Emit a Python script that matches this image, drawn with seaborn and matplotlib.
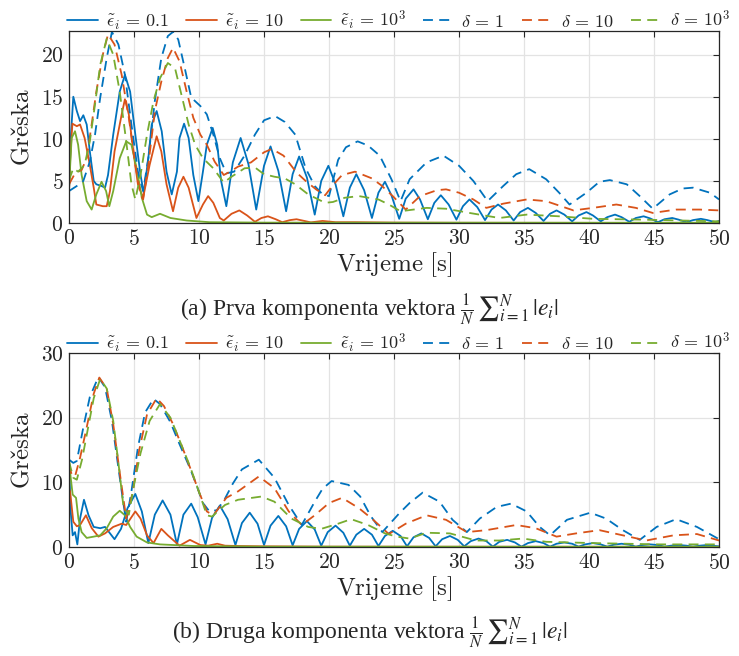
import numpy as np
import matplotlib
matplotlib.use("Agg")
import matplotlib.pyplot as plt
import seaborn as sns

# (t, value) points, one list per curve
# panel (a): first component
a_eps01 = [(0.0, 4.0), (0.15, 10.5), (0.33, 15.0), (0.6, 13.3), (0.85, 12.1), (1.1, 12.8), (1.36, 11.7),
           (1.6, 8.5), (1.9, 5.0), (2.1, 4.6), (2.5, 4.4), (2.77, 4.2), (3.0, 5.7), (3.4, 10.5), (3.9, 15.6),
           (4.3, 17.6), (4.7, 15.6), (5.1, 10.5), (5.5, 5.7), (5.75, 3.6), (6.1, 7.7), (6.36, 11.7), (6.74, 13.3),
           (7.13, 10.9), (7.5, 6.1), (7.9, 3.4), (8.3, 6.1), (8.5, 10.1), (8.85, 11.8), (9.2, 10.1), (9.56, 5.7),
           (9.95, 2.6), (10.3, 6.1), (10.6, 9.3), (11.05, 11.3), (11.4, 9.3), (11.7, 5.0), (12.1, 2.0), (12.6, 7.2),
           (13.2, 10.1), (13.8, 7.0), (14.4, 1.6), (15.0, 6.8), (15.5, 9.1), (16.1, 6.2), (16.7, 1.4), (17.2, 5.8),
           (17.7, 7.9), (18.3, 5.4), (18.9, 1.0), (19.4, 5.0), (19.95, 6.8), (20.5, 4.6), (21.1, 0.8), (21.6, 4.2),
           (22.1, 5.8), (22.7, 3.9), (23.3, 0.6), (23.8, 3.6), (24.3, 4.9), (24.8, 3.3), (25.4, 0.5), (25.9, 2.9),
           (26.5, 4.0), (27.0, 2.8), (27.6, 0.45), (28.1, 2.4), (28.6, 3.3), (29.2, 2.2), (29.8, 0.4), (30.3, 2.0),
           (30.8, 2.8), (31.4, 1.9), (32.0, 0.35), (32.5, 1.6), (33.0, 2.2), (33.6, 1.5), (34.2, 0.3), (34.7, 1.3),
           (35.3, 1.8), (35.9, 1.2), (36.5, 0.25), (37.0, 1.1), (37.5, 1.5), (38.1, 1.0), (38.7, 0.2), (39.2, 0.9),
           (39.8, 1.3), (40.3, 0.9), (40.9, 0.2), (41.4, 0.7), (42.0, 1.0), (42.5, 0.7), (43.1, 0.15), (43.6, 0.6),
           (44.2, 0.8), (44.7, 0.55), (45.3, 0.1), (45.8, 0.45), (46.4, 0.6), (46.9, 0.4), (47.5, 0.1), (48.0, 0.35),
           (48.6, 0.5), (49.1, 0.35), (49.7, 0.1), (50.0, 0.25)]
a_eps10 = [(0.0, 3.8), (0.1, 8.0), (0.26, 11.8), (0.6, 11.5), (0.85, 11.7), (1.2, 10.1), (1.6, 6.9), (1.9, 4.2),
           (2.1, 2.2), (2.6, 2.0), (2.9, 2.0), (3.15, 3.8), (3.5, 8.5), (4.05, 12.9), (4.3, 14.7), (4.6, 12.9),
           (4.95, 8.5), (5.3, 4.6), (5.7, 3.0), (6.2, 6.9), (6.74, 10.3), (7.1, 8.5), (7.5, 4.6), (8.0, 1.4),
           (8.4, 4.2), (8.8, 5.5), (9.2, 4.2), (9.8, 0.6), (10.3, 2.2), (10.7, 3.2), (11.1, 2.4), (11.6, 0.6),
           (11.9, 0.3), (12.5, 1.1), (13.1, 1.5), (13.7, 0.9), (14.3, 0.15), (14.8, 0.6), (15.3, 0.8), (15.9, 0.45),
           (16.4, 0.1), (17.0, 0.35), (17.5, 0.45), (18.1, 0.25), (18.6, 0.08), (19.5, 0.25), (20.5, 0.1),
           (22.0, 0.1), (25.0, 0.05), (30.0, 0.03), (40.0, 0.02), (50.0, 0.02)]
a_eps1000 = [(0.0, 4.2), (0.2, 10.1), (0.46, 10.9), (0.7, 9.3), (0.97, 5.7), (1.36, 2.6), (1.74, 1.6), (2.1, 3.4),
             (2.5, 4.9), (2.85, 3.8), (3.1, 2.0), (3.4, 3.8), (3.9, 7.7), (4.4, 9.7), (4.8, 9.3), (5.2, 6.5),
             (5.6, 3.0), (6.0, 1.0), (6.36, 0.7), (7.0, 1.1), (7.8, 0.6), (9.05, 0.3), (10.8, 0.1), (15.0, 0.05),
             (50.0, 0.03)]
a_del1 = [(0.0, 3.8), (0.6, 4.4), (1.1, 5.0), (1.6, 7.3), (2.0, 10.5), (2.4, 14.9), (2.9, 19.6), (3.3, 22.7),
          (3.8, 21.2), (4.3, 17.6), (4.8, 11.7), (5.3, 6.1), (5.7, 3.8), (6.1, 7.7), (6.6, 14.5), (7.1, 19.6),
          (7.6, 22.2), (8.0, 22.7), (8.4, 21.8), (8.9, 18.4), (9.4, 14.9), (10.1, 13.9), (10.6, 12.9), (11.1, 10.5),
          (11.6, 7.7), (12.1, 5.9), (12.7, 6.1), (13.5, 8.0), (14.3, 10.5), (15.0, 12.2), (15.85, 12.7),
          (16.6, 12.0), (17.4, 10.5), (18.2, 6.5), (18.9, 4.4), (19.5, 3.4), (20.0, 3.2), (20.7, 7.5), (21.3, 9.0),
          (22.2, 9.7), (23.0, 9.2), (23.9, 8.0), (24.8, 5.2), (25.5, 2.6), (26.2, 5.2), (27.5, 7.2), (28.8, 8.0),
          (30.0, 6.8), (31.1, 5.0), (32.2, 2.6), (33.4, 4.4), (34.4, 5.8), (35.4, 6.4), (36.7, 5.2), (37.7, 3.6),
          (38.5, 2.2), (39.8, 3.6), (40.8, 4.9), (41.6, 5.1), (42.9, 4.6), (43.9, 3.2), (44.9, 1.7), (46.2, 3.4),
          (47.2, 4.1), (48.0, 4.2), (49.3, 3.6), (50.0, 2.8)]
a_del10 = [(0.0, 4.6), (0.46, 5.9), (0.97, 6.3), (1.36, 7.7), (1.74, 11.7), (2.1, 15.6), (2.6, 20.0), (3.0, 22.4),
           (3.5, 21.2), (4.05, 17.6), (4.6, 12.5), (5.1, 6.9), (5.5, 3.4), (5.7, 2.8), (6.1, 6.9), (6.6, 13.3),
           (7.1, 16.8), (7.6, 19.6), (8.0, 20.8), (8.5, 19.2), (9.05, 15.6), (9.56, 12.5), (10.1, 10.5),
           (10.6, 9.3), (11.2, 7.3), (11.9, 5.7), (12.5, 6.2), (13.0, 6.7), (14.0, 7.2), (15.0, 8.4), (15.6, 8.8),
           (16.5, 8.0), (17.5, 6.0), (18.2, 5.0), (19.0, 4.0), (19.7, 3.3), (20.3, 4.5), (21.0, 5.7), (22.0, 6.1),
           (23.3, 5.3), (24.0, 4.5), (24.9, 3.2), (25.9, 1.6), (27.0, 3.2), (28.3, 3.9), (29.0, 4.0), (30.0, 3.6),
           (31.1, 2.8), (32.1, 1.8), (33.4, 2.3), (35.2, 2.8), (36.7, 2.6), (38.8, 1.5), (40.3, 1.8), (42.1, 2.2),
           (43.6, 1.8), (44.9, 1.2), (46.7, 1.6), (48.5, 1.6), (50.0, 1.5)]
a_del1000 = [(0.0, 5.1), (0.33, 6.5), (0.7, 6.1), (1.2, 6.9), (1.6, 9.7), (2.0, 14.1), (2.4, 18.8), (2.9, 21.9),
             (3.4, 20.0), (3.9, 15.6), (4.4, 9.7), (4.8, 4.6), (5.1, 2.8), (5.5, 5.7), (6.0, 10.5), (6.5, 14.5),
             (7.0, 17.2), (7.6, 19.0), (8.15, 18.4), (8.7, 14.9), (9.2, 11.7), (9.7, 9.3), (10.3, 7.7), (11.1, 6.5),
             (11.9, 4.8), (12.5, 5.5), (13.5, 6.5), (14.3, 6.6), (15.0, 5.8), (15.8, 5.5), (16.6, 5.3), (17.4, 4.6),
             (18.4, 3.4), (19.7, 2.4), (20.3, 2.5), (21.2, 3.0), (22.3, 3.2), (23.8, 2.8), (24.6, 2.2), (25.5, 1.4),
             (26.5, 1.6), (27.5, 1.8), (29.0, 1.7), (30.8, 1.2), (33.1, 0.6), (35.2, 1.0), (37.7, 0.8), (40.3, 0.5),
             (44.2, 0.4), (50.0, 0.2)]

# panel (b): second component
b_eps01 = [(0.0, 13.0), (0.13, 5.5), (0.28, 1.8), (0.46, 2.3), (0.64, 0.4), (0.85, 4.4), (1.15, 7.3), (1.5, 4.9),
           (1.9, 3.1), (2.4, 2.9), (2.77, 3.1), (3.0, 2.5), (3.5, 1.2), (4.0, 2.8), (4.5, 6.0), (5.1, 8.2),
           (5.6, 5.5), (6.1, 0.6), (6.6, 5.0), (7.2, 7.2), (7.8, 5.0), (8.3, 0.4), (8.8, 5.0), (9.4, 6.7),
           (9.9, 4.6), (10.5, 0.4), (11.0, 4.5), (11.6, 6.4), (12.2, 4.3), (12.8, 0.3), (13.3, 3.7), (13.9, 5.3),
           (14.5, 3.6), (15.0, 0.3), (15.5, 3.3), (16.1, 4.8), (16.7, 3.2), (17.2, 0.25), (17.7, 2.8), (18.3, 4.0),
           (18.9, 2.7), (19.4, 0.2), (19.9, 2.3), (20.5, 3.3), (21.1, 2.2), (21.6, 0.2), (22.1, 1.9), (22.7, 2.8),
           (23.3, 1.9), (23.8, 0.15), (24.3, 1.7), (24.9, 2.5), (25.5, 1.7), (26.0, 0.1), (26.5, 1.5), (27.1, 2.1),
           (27.7, 1.4), (28.2, 0.1), (28.7, 1.2), (29.3, 1.7), (29.9, 1.1), (30.4, 0.1), (30.9, 0.9), (31.5, 1.3),
           (32.1, 0.9), (32.6, 0.05), (33.1, 0.8), (33.7, 1.1), (34.3, 0.7), (34.8, 0.05), (35.3, 0.6), (35.9, 0.9),
           (36.5, 0.6), (37.0, 0.05), (37.5, 0.5), (38.1, 0.7), (38.7, 0.5), (39.2, 0.05), (39.7, 0.4), (40.3, 0.6),
           (40.9, 0.4), (41.4, 0.05), (41.9, 0.35), (42.5, 0.5), (43.1, 0.35), (43.6, 0.05), (44.1, 0.3),
           (44.7, 0.4), (45.3, 0.3), (45.8, 0.05), (46.3, 0.2), (46.9, 0.3), (47.5, 0.2), (48.0, 0.05), (48.5, 0.2),
           (49.1, 0.3), (49.7, 0.15), (50.0, 0.1)]
b_eps10 = [(0.0, 9.0), (0.08, 8.6), (0.33, 3.9), (0.6, 3.2), (0.85, 3.4), (1.3, 4.9), (1.75, 2.9), (2.26, 1.6),
           (2.77, 2.1), (3.4, 3.1), (4.05, 3.6), (4.4, 3.4), (5.1, 5.5), (5.5, 4.4), (6.0, 1.8), (6.5, 0.6),
           (7.1, 2.8), (7.6, 1.8), (8.5, 0.2), (9.3, 1.1), (10.1, 0.3), (10.7, 0.2), (11.4, 0.5), (12.0, 0.2),
           (13.0, 0.15), (15.0, 0.1), (20.0, 0.05), (50.0, 0.02)]
b_eps1000 = [(0.0, 13.5), (0.13, 10.7), (0.28, 8.1), (0.54, 7.6), (0.72, 4.4), (0.97, 2.3), (1.36, 1.4),
             (1.9, 1.6), (2.4, 1.8), (2.9, 2.9), (3.4, 4.7), (3.9, 5.6), (4.3, 4.9), (4.7, 3.1), (5.2, 1.6),
             (6.0, 0.7), (7.0, 0.4), (9.6, 0.15), (15.0, 0.05), (50.0, 0.03)]
b_del1 = [(0.0, 13.5), (0.33, 13.0), (0.6, 13.3), (1.1, 18.5), (1.6, 23.2), (2.26, 26.3), (2.77, 24.7), (3.3, 19.5),
          (3.8, 12.2), (4.2, 6.5), (4.4, 3.9), (4.8, 8.6), (5.3, 15.4), (5.85, 20.8), (6.5, 22.9), (7.0, 22.1),
          (7.8, 19.3), (8.5, 15.9), (9.3, 12.2), (9.8, 9.6), (10.3, 6.8), (10.8, 5.5), (11.4, 5.7), (12.0, 7.5),
          (12.6, 9.8), (13.3, 12.0), (14.6, 13.5), (15.8, 10.7), (16.9, 6.5), (17.9, 3.4), (18.9, 7.0),
          (19.5, 9.0), (20.2, 10.2), (21.5, 9.6), (22.4, 7.8), (23.2, 4.8), (24.1, 2.3), (25.4, 5.2), (26.2, 6.8),
          (27.2, 8.4), (28.5, 7.0), (29.5, 4.2), (30.6, 2.3), (31.6, 4.4), (32.9, 6.2), (34.0, 6.7), (35.2, 5.5),
          (36.2, 3.1), (37.0, 1.8), (38.3, 4.2), (40.1, 5.3), (41.3, 4.4), (42.6, 2.6), (43.9, 1.1), (45.2, 3.1),
          (46.7, 4.3), (48.3, 3.1), (50.0, 1.2)]
b_del10 = [(0.0, 12.8), (0.2, 11.2), (0.46, 10.9), (0.85, 13.8), (1.36, 18.5), (1.9, 23.7), (2.33, 26.2),
           (2.9, 24.5), (3.4, 19.0), (3.9, 11.5), (4.4, 4.4), (4.9, 8.5), (5.4, 15.0), (6.0, 20.5), (6.74, 23.0),
           (7.3, 21.8), (8.0, 19.0), (8.7, 15.5), (9.4, 11.8), (10.0, 8.5), (10.6, 5.5), (11.1, 4.9), (12.1, 7.6),
           (13.0, 8.6), (14.6, 10.9), (15.8, 9.1), (16.9, 5.5), (17.9, 3.4), (18.9, 4.9), (20.0, 6.8), (21.0, 7.6),
           (22.3, 6.0), (23.4, 4.2), (24.6, 2.0), (25.9, 3.6), (27.5, 4.9), (29.0, 4.2), (30.6, 2.3), (32.1, 2.6),
           (34.4, 3.4), (35.9, 2.9), (37.5, 1.6), (39.0, 2.1), (40.8, 2.6), (42.6, 1.8), (44.4, 1.0), (46.5, 1.8),
           (48.3, 2.0), (50.0, 1.0)]
b_del1000 = [(0.0, 13.2), (0.33, 10.7), (0.6, 10.4), (1.0, 13.5), (1.5, 18.8), (1.9, 23.0), (2.4, 26.0),
             (2.9, 24.5), (3.4, 19.5), (3.8, 13.0), (4.2, 6.0), (4.6, 5.0), (5.0, 9.6), (5.5, 14.5), (6.2, 19.5),
             (7.0, 22.1), (7.8, 20.0), (8.5, 16.5), (9.3, 12.5), (10.0, 8.5), (10.6, 4.9), (11.0, 4.7), (12.0, 6.5),
             (13.0, 7.3), (14.8, 7.8), (15.8, 7.0), (17.1, 4.4), (18.4, 3.1), (19.4, 2.8), (20.7, 3.6), (21.7, 4.3),
             (23.0, 3.4), (24.3, 2.1), (25.2, 1.6), (26.2, 1.3), (27.5, 2.2), (29.3, 2.1), (31.3, 1.0), (33.1, 1.0),
             (34.9, 1.3), (36.7, 0.8), (40.3, 0.6), (45.4, 0.4), (50.0, 0.4)]

labels = [r'$\tilde{\epsilon}_i\,=\,0.1$', r'$\tilde{\epsilon}_i\,=\,10$', r'$\tilde{\epsilon}_i\,=\,10^3$',
          r'$\delta\,=\,1$', r'$\delta\,=\,10$', r'$\delta\,=\,10^3$']
captions = [r'(a) Prva komponenta vektora $\frac{1}{N}\,{\sum}_{i=1}^{N}\,|e_i|$',
            r'(b) Druga komponenta vektora $\frac{1}{N}\,{\sum}_{i=1}^{N}\,|e_i|$']

colors = [(0, 0.447, 0.741), (0.85, 0.325, 0.098), (0.466, 0.674, 0.188)]

sns.set_style("whitegrid")
plt.rcParams['font.family'] = ['cmr10', 'DejaVu Serif']
plt.rcParams['mathtext.fontset'] = 'cm'
plt.rcParams['axes.formatter.use_mathtext'] = True

fig = plt.figure(figsize=(7.39, 6.56), dpi=100)
ax_a = fig.add_axes([0.0934, 0.660, 0.8796, 0.2927])
ax_b = fig.add_axes([0.0934, 0.1662, 0.8796, 0.2957])

panels = [
    (ax_a, [a_eps01, a_eps10, a_eps1000, a_del1, a_del10, a_del1000], 22.8, [0, 5, 10, 15, 20]),
    (ax_b, [b_eps01, b_eps10, b_eps1000, b_del1, b_del10, b_del1000], 30, [0, 10, 20, 30]),
]

for ax, series, ymax, yticks in panels:
    for k, pts in enumerate(series):
        t, v = np.array(pts).T
        ls = '-' if k < 3 else (0, (5.5, 3.5))
        sns.lineplot(x=t, y=v, ax=ax, color=colors[k % 3], linestyle=ls, lw=1.3,
                     label=labels[k], sort=False, estimator=None)
    ax.set_xlim(0, 50)
    ax.set_ylim(0, ymax)
    ax.set_xticks(range(0, 51, 5))
    ax.set_yticks(yticks)
    ax.grid(True, color='#e3e3e3', lw=0.9)
    for s in ax.spines.values():
        s.set_color('#262626')
        s.set_linewidth(0.9)
    ax.tick_params(direction='in', top=True, right=True, length=4, width=0.8,
                   color='#262626', labelsize=15.5, pad=4)
    ax.set_xlabel(r'$\mathrm{Vrijeme\ [s]}$', fontsize=18, labelpad=1)
    ax.set_ylabel(r'$\mathrm{Gre\check{s}ka}$', fontsize=18, labelpad=5)
    h, l = ax.get_legend_handles_labels()
    ax.legend(h, l, loc='lower center', bbox_to_anchor=(0.507, 0.955), ncol=6, frameon=False,
              fontsize=13, handlelength=1.7, handletextpad=0.45, columnspacing=0.95, borderaxespad=0)

fig.text(0.5, 1 - 310 / 656, captions[0], ha='center', va='center', fontsize=17,
         family='Liberation Serif', math_fontfamily='stix')
fig.text(0.5, 1 - 633 / 656, captions[1], ha='center', va='center', fontsize=17,
         family='Liberation Serif', math_fontfamily='stix')

fig.savefig('out.png', dpi=100)
